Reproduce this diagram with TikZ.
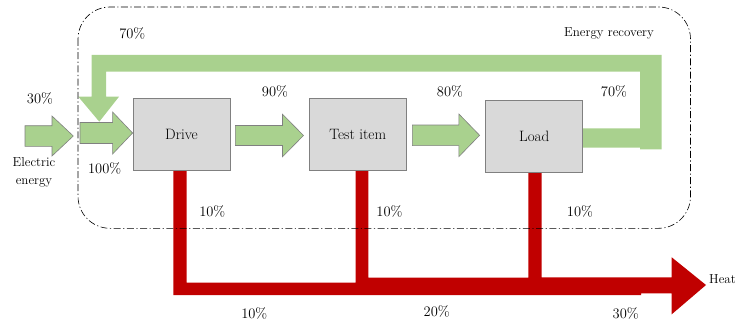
\documentclass[tikz,border=0pt]{standalone}
\usetikzlibrary{calc}

\definecolor{flowgreen}{HTML}{A9D18E}
\definecolor{heatred}{HTML}{C00000}
\definecolor{boxgray}{HTML}{D9D9D9}
\definecolor{edgegray}{HTML}{808080}

\tikzset{
  blockarrow/.style={fill=flowgreen, draw=edgegray, line width=0.6pt, line join=miter},
  recovery/.style={fill=flowgreen},
  heatflow/.style={fill=heatred},
  unit/.style={draw=edgegray, fill=boxgray, line width=0.8pt, inner sep=0pt,
    minimum width=97pt, minimum height=72pt, font=\fontsize{15}{18}\selectfont},
  pct/.style={inner sep=0pt, font=\fontsize{14.5}{17}\selectfont},
  note/.style={inner sep=0pt, align=center, font=\fontsize{13}{17.5}\selectfont},
  framebox/.style={draw=black, line width=0.6pt, rounded corners=32pt,
    dash pattern=on 7pt off 2.5pt on 1.2pt off 2.5pt},
}

% Block arrow from a tail point to a tip point:
% #1 tail, #2 tip, #3 half shaft width, #4 half head width, #5 head length
\newcommand\flowarrow[5]{%
  \path[blockarrow] let \p1=(#1), \p2=(#2) in
    (\x1,\y1+#3pt) -- (\x2-#5pt,\y1+#3pt) -- (\x2-#5pt,\y1+#4pt) -- (\x2,\y1)
    -- (\x2-#5pt,\y1-#4pt) -- (\x2-#5pt,\y1-#3pt) -- (\x1,\y1-#3pt) -- cycle;}

\begin{document}
\begin{tikzpicture}[x=1pt,y=-1pt]
\useasboundingbox (0,0) rectangle (736,321);

% process units
\node[unit] (drive) at (181.5,134.3) {Drive};
\node[unit] (test)  at (357.7,134.2) {Test item};
\node[unit] (load)  at (534.2,136.1) {Load};

% energy recovered from the load and fed back to the drive input
\fill[recovery] (582,128.3) -- (640,128.3) -- (640,71.7) -- (106,71.7) -- (106,96.7)
  -- (119,96.7) -- (99.3,121.7) -- (78.3,96.7) -- (91.7,96.7) -- (91.7,55)
  -- (661.7,55) -- (661.7,149.3) -- (640,149.3) -- (640,147.7) -- (582,147.7) -- cycle;

% forward energy flow
\coordinate (supply) at (25,136);
\coordinate (supplytip) at (73.3,136);
\coordinate (merge) at (80,133);
\flowarrow{supply}{supplytip}{10.3}{20}{21.3}
\flowarrow{merge}{drive.west}{10.5}{21}{20}
\flowarrow{$(drive.east)+(5,1.2)$}{$(test.west)+(-5.3,1.3)$}{10}{21.3}{21}
\flowarrow{$(test.east)+(5.7,1.1)$}{$(load.west)+(-5.7,-0.8)$}{10.3}{21.3}{20.7}

% heat losses
\fill[heatflow] (173.3,169) -- (186.7,169) -- (186.7,282.7) -- (355.7,282.7)
  -- (355.7,170) -- (368.3,170) -- (368.3,277.7) -- (528.3,277.7) -- (528.3,172)
  -- (541.7,172) -- (541.7,277.3) -- (671.7,277.3) -- (671.7,257.3) -- (706,285)
  -- (671.7,314.3) -- (671.7,293.3) -- (641,293.3) -- (641,295) -- (173.3,295) -- cycle;

% redraw unit outlines over the flows
\node[unit] at (drive) {Drive};
\node[unit] at (test) {Test item};
\node[unit] at (load) {Load};

% energy recovery boundary
\draw[framebox] (78,7) rectangle (690.5,228.3);

% labels
\node[note] (recov) at (609,33.5) {Energy recovery};
\node[note] (elec) at (34,172.3) {Electric\\energy};
\node[note, anchor=west] (heat) at (709,279) {Heat};

\node[pct] (p30in)  at (40,98.5) {30\%};
\node[pct] (p70top) at (132.3,33) {70\%};
\node[pct] (p100)   at (104.7,168) {100\%};
\node[pct] (p90)    at (275,91.7) {90\%};
\node[pct] (p80)    at (450,91.7) {80\%};
\node[pct] (p70r)   at (614,91.7) {70\%};

\node[pct] (l1) at (212.3,211.7) {10\%};
\node[pct] (l2) at (389.5,211.7) {10\%};
\node[pct] (l3) at (580,211.7) {10\%};

\node[pct] (h1) at (254.3,313.3) {10\%};
\node[pct] (h2) at (436.7,311.7) {20\%};
\node[pct] (h3) at (625.7,313.2) {30\%};
\end{tikzpicture}
\end{document}
